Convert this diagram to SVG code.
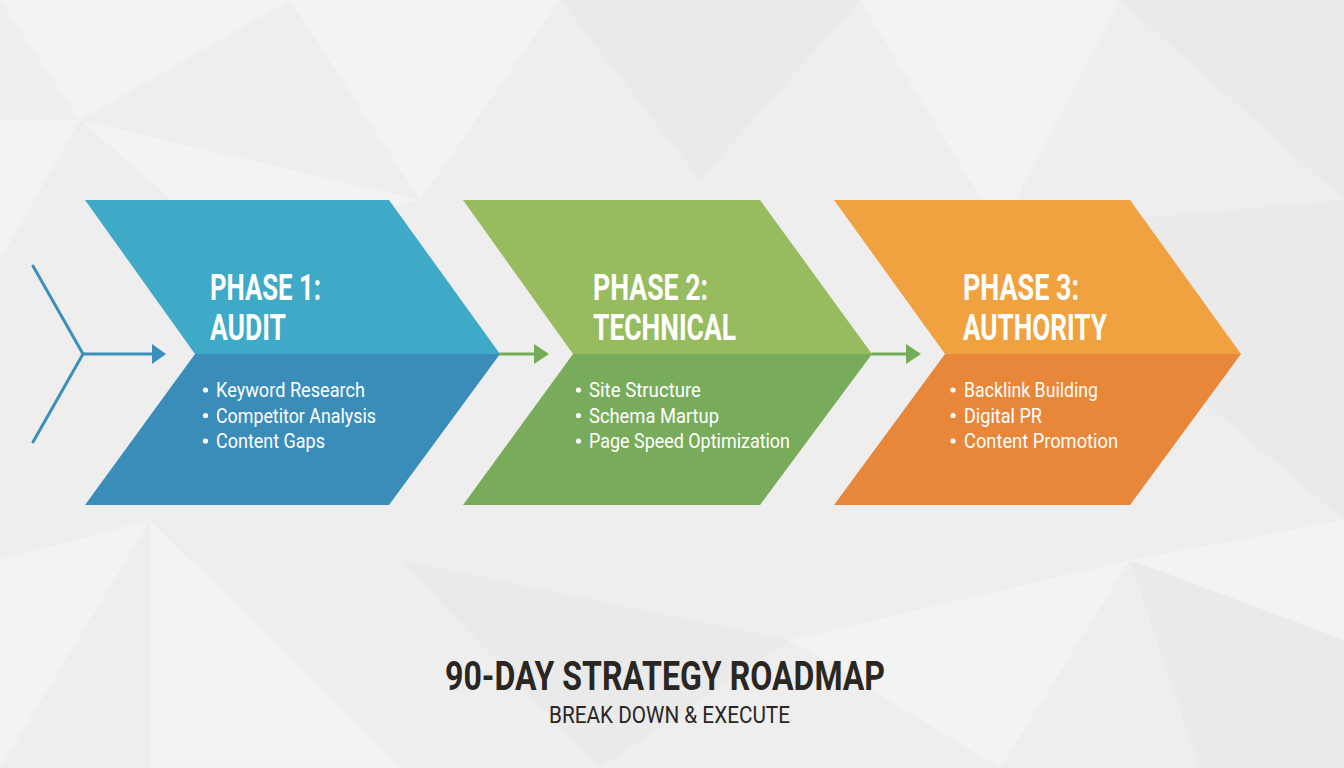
<svg xmlns="http://www.w3.org/2000/svg" width="1344" height="768" viewBox="0 0 1344 768">
  <defs>
    <style>
      .head { font-family: Roboto, "Liberation Sans", sans-serif; font-weight: 700; font-size: 37px; fill: #ffffff; }
      .item { font-family: Roboto, "Liberation Sans", sans-serif; font-weight: 400; font-size: 20px; fill: #ffffff; }
      .title { font-family: Roboto, "Liberation Sans", sans-serif; font-weight: 700; font-size: 40px; fill: #2a2622; }
      .sub { font-family: Roboto, "Liberation Sans", sans-serif; font-weight: 400; font-size: 24px; fill: #2a2622; }
      .bg-l { fill: #ffffff; opacity: 0.3; }
      .bg-d { fill: #d8d8d8; opacity: 0.15; }
    </style>
  </defs>

  <!-- background -->
  <rect x="0" y="0" width="1344" height="768" fill="#eeeeee"/>
  <g id="background">
    <polygon class="bg-l" points="0,0 290,0 80,120"/>
    <polygon class="bg-l" points="290,0 560,0 420,200"/>
    <polygon class="bg-d" points="560,0 860,0 700,180"/>
    <polygon class="bg-l" points="860,0 1120,0 1000,230"/>
    <polygon class="bg-d" points="1120,0 1344,0 1344,200"/>
    <polygon class="bg-l" points="0,120 80,120 0,260"/>
    <polygon class="bg-l" points="80,120 420,200 230,250"/>
    <polygon class="bg-d" points="1000,230 1344,200 1344,520"/>
    <polygon class="bg-l" points="0,560 150,520 0,768"/>
    <polygon class="bg-l" points="150,520 400,768 150,768"/>
    <polygon class="bg-d" points="400,560 790,640 600,768"/>
    <polygon class="bg-l" points="790,640 1130,560 1000,768"/>
    <polygon class="bg-d" points="1130,560 1344,640 1344,768 1200,768"/>
    <polygon class="bg-l" points="1344,520 1130,560 1344,640"/>
  </g>

  <!-- connectors -->
  <g id="connectors" fill="none" stroke-linecap="round" stroke-linejoin="round">
    <polyline points="33,266 83,354 33,442" stroke="#3a8fbb" stroke-width="3"/>
    <line x1="83" y1="354" x2="152" y2="354" stroke="#3a8fbb" stroke-width="3"/>
    <polygon points="152,344 166,354 152,364" fill="#3a8fbb" stroke="none"/>
    <line x1="500" y1="354" x2="534" y2="354" stroke="#72ad55" stroke-width="3"/>
    <polygon points="534,344 549,354 534,364" fill="#72ad55" stroke="none"/>
    <line x1="872" y1="354" x2="906" y2="354" stroke="#72ad55" stroke-width="3"/>
    <polygon points="906,344 921,354 906,364" fill="#72ad55" stroke="none"/>
  </g>

  <!-- phase 1 -->
  <g id="phase1">
    <polygon points="85,200 389,200 500,354 195,354" fill="#3eaac7"/>
    <polygon points="195,354 500,354 389,505 85,505" fill="#3a8db8"/>
    <text class="head" x="210" y="300" textLength="111" lengthAdjust="spacingAndGlyphs">PHASE 1:</text>
    <text class="head" x="210" y="340" textLength="76" lengthAdjust="spacingAndGlyphs">AUDIT</text>
    <circle cx="205.5" cy="390" r="2.6" fill="#ffffff"/>
    <circle cx="205.5" cy="415.5" r="2.6" fill="#ffffff"/>
    <circle cx="205.5" cy="441" r="2.6" fill="#ffffff"/>
    <text class="item" x="216" y="397" textLength="149" lengthAdjust="spacingAndGlyphs">Keyword Research</text>
    <text class="item" x="216" y="422.5" textLength="160" lengthAdjust="spacingAndGlyphs">Competitor Analysis</text>
    <text class="item" x="216" y="448" textLength="109" lengthAdjust="spacingAndGlyphs">Content Gaps</text>
  </g>

  <!-- phase 2 -->
  <g id="phase2">
    <polygon points="463,200 760,200 872,354 573,354" fill="#97bc5f"/>
    <polygon points="573,354 872,354 760,505 463,505" fill="#78ac5a"/>
    <text class="head" x="593" y="300" textLength="115" lengthAdjust="spacingAndGlyphs">PHASE 2:</text>
    <text class="head" x="593" y="340" textLength="143" lengthAdjust="spacingAndGlyphs">TECHNICAL</text>
    <circle cx="578.5" cy="390" r="2.6" fill="#ffffff"/>
    <circle cx="578.5" cy="415.5" r="2.6" fill="#ffffff"/>
    <circle cx="578.5" cy="441" r="2.6" fill="#ffffff"/>
    <text class="item" x="589" y="397" textLength="112" lengthAdjust="spacingAndGlyphs">Site Structure</text>
    <text class="item" x="589" y="422.5" textLength="130" lengthAdjust="spacingAndGlyphs">Schema Martup</text>
    <text class="item" x="589" y="448" textLength="201" lengthAdjust="spacingAndGlyphs">Page Speed Optimization</text>
  </g>

  <!-- phase 3 -->
  <g id="phase3">
    <polygon points="834,200 1130,200 1241,354 945,354" fill="#f1a240"/>
    <polygon points="945,354 1241,354 1130,505 834,505" fill="#e8873a"/>
    <text class="head" x="963" y="300" textLength="116" lengthAdjust="spacingAndGlyphs">PHASE 3:</text>
    <text class="head" x="963" y="340" textLength="144" lengthAdjust="spacingAndGlyphs">AUTHORITY</text>
    <circle cx="953" cy="390" r="2.6" fill="#ffffff"/>
    <circle cx="953" cy="415.5" r="2.6" fill="#ffffff"/>
    <circle cx="953" cy="441" r="2.6" fill="#ffffff"/>
    <text class="item" x="964" y="397" textLength="134" lengthAdjust="spacingAndGlyphs">Backlink Building</text>
    <text class="item" x="964" y="422.5" textLength="78" lengthAdjust="spacingAndGlyphs">Digital PR</text>
    <text class="item" x="964" y="448" textLength="154" lengthAdjust="spacingAndGlyphs">Content Promotion</text>
  </g>

  <!-- title -->
  <g id="title">
    <text class="title" x="445" y="690" textLength="440" lengthAdjust="spacingAndGlyphs">90-DAY STRATEGY ROADMAP</text>
    <text class="sub" x="549" y="723" textLength="241" lengthAdjust="spacingAndGlyphs">BREAK DOWN &amp; EXECUTE</text>
  </g>
</svg>
